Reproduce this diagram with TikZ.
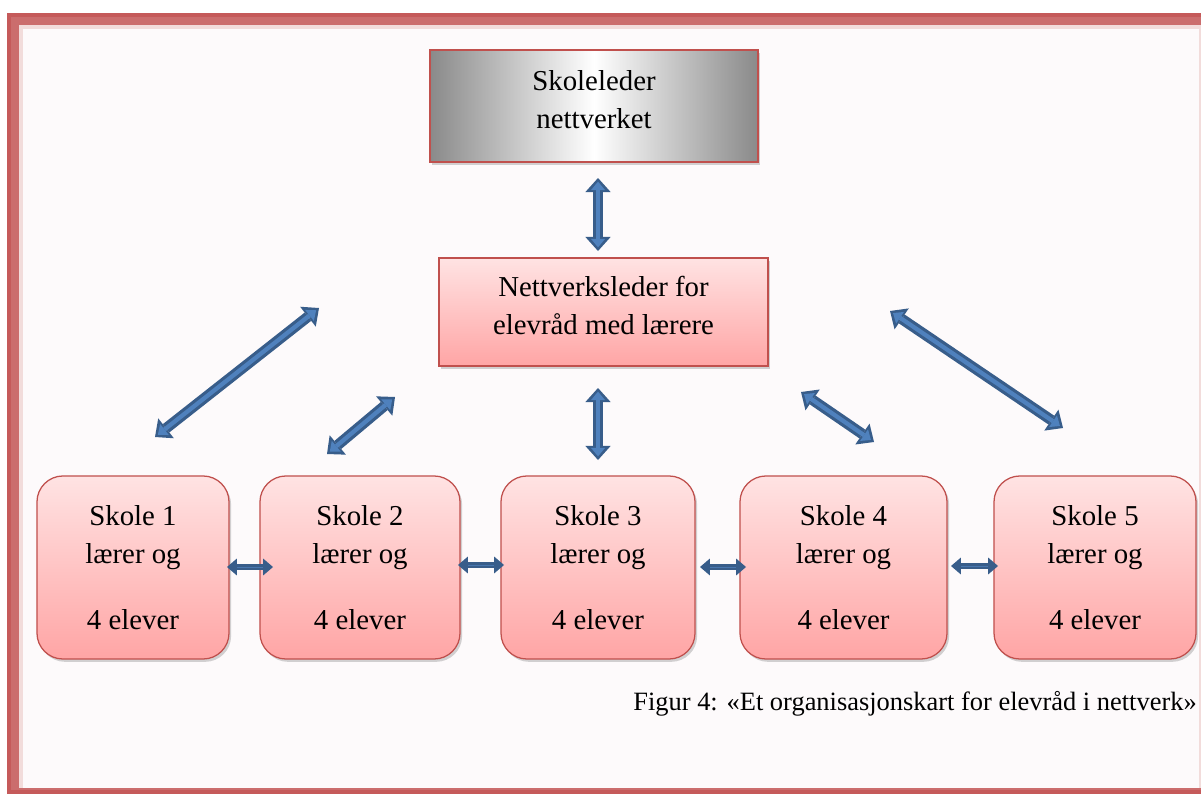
\documentclass[tikz,border=0pt]{standalone}
\usepackage{fontspec}
\setmainfont{Liberation Serif}
\usetikzlibrary{arrows.meta,shadows}

\definecolor{framered}{HTML}{C55A5A}
\definecolor{framelight}{HTML}{CB6D6D}
\definecolor{framepink}{HTML}{F2DCDB}
\definecolor{pagebg}{HTML}{FDFAFB}
\definecolor{boxline}{HTML}{C0504D}
\definecolor{pinktop}{HTML}{FFE3E3}
\definecolor{pinkbottom}{HTML}{FFA5A5}
\definecolor{arrowdark}{HTML}{385D8A}
\definecolor{arrowblue}{HTML}{4F81BD}

\tikzset{
  boxshadow/.style={drop shadow={opacity=0.35, shadow xshift=1.5pt, shadow yshift=-2pt}},
  pinkbox/.style={draw=boxline, line width=0.9pt, top color=pinktop, bottom color=pinkbottom,
    inner sep=0pt, align=center, font=\fontsize{20.5}{27}\selectfont, boxshadow},
  skolebox/.style={pinkbox, rounded corners=0.65cm, minimum height=4.575cm},
  blockarrow/.style={draw=arrowdark, line width=7.5pt,
    {Triangle[length=10pt,width=18pt,line width=0pt]}-{Triangle[length=10pt,width=18pt,line width=0pt]},
    postaction={draw=arrowblue, line width=3pt, shorten <=2.6pt, shorten >=2.6pt,
      {Triangle[length=6pt,width=10pt,line width=0pt]}-{Triangle[length=6pt,width=10pt,line width=0pt]}}},
  smallarrow/.style={draw=arrowdark, line width=4.8pt,
    {Triangle[length=7pt,width=12pt,line width=0pt]}-{Triangle[length=7pt,width=12pt,line width=0pt]},
    postaction={draw=arrowblue!70!arrowdark, line width=0.6pt, arrows=-, shorten <=7pt, shorten >=7pt}}
}

\begin{document}
\begin{tikzpicture}[x=0.025cm, y=-0.025cm]
  \useasboundingbox (0,0) rectangle (1201,794);

  % frame
  \fill[white] (0,0) rectangle (1201,794);
  \fill[framered] (7,13) rectangle (1201,794);
  \fill[framelight] (11,17) rectangle (1201,790);
  \fill[framepink] (19,25) rectangle (1201,788);
  \fill[pagebg] (23,29) rectangle (1199,788);

  % top boxes
  \node[draw=boxline, line width=0.9pt, left color=gray!92, right color=gray!92, middle color=white,
    minimum width=8.2cm, minimum height=2.8cm, inner sep=0pt, align=center, text depth=9pt,
    font=\fontsize{20.5}{27}\selectfont, boxshadow] (leder) at (594,106) {Skoleleder\\nettverket};
  \node[pinkbox, minimum width=8.225cm, minimum height=2.7cm, text depth=9pt] (nettleder) at (603.5,312)
    {Nettverksleder for\\elevråd med lærere};

  % schools
  \node[skolebox, minimum width=4.8cm] (skole1) at (133,567.5) {Skole 1\\lærer og\\[20pt]4 elever};
  \node[skolebox, minimum width=5.0cm] (skole2) at (360,567.5) {Skole 2\\lærer og\\[20pt]4 elever};
  \node[skolebox, minimum width=4.85cm] (skole3) at (598,567.5) {Skole 3\\lærer og\\[20pt]4 elever};
  \node[skolebox, minimum width=5.175cm] (skole4) at (843.5,567.5) {Skole 4\\lærer og\\[20pt]4 elever};
  \node[skolebox, minimum width=5.05cm] (skole5) at (1095,567.5) {Skole 5\\lærer og\\[20pt]4 elever};

  \node[anchor=east, font=\fontsize{18.8}{22}\selectfont, inner sep=0pt] (caption) at (1197,704)
    {Figur 4: «Et organisasjonskart for elevråd i nettverk»};

  % arrow ends
  \coordinate (top-a) at (598,178);
  \coordinate (top-b) at (598,251);
  \coordinate (d1-a) at (155,437);
  \coordinate (d1-b) at (319,308);
  \coordinate (d2-a) at (327,454);
  \coordinate (d2-b) at (395,397);
  \coordinate (mid-a) at (598,388);
  \coordinate (mid-b) at (598,460);
  \coordinate (d4-a) at (801,392);
  \coordinate (d4-b) at (874,442);
  \coordinate (d5-a) at (890,311);
  \coordinate (d5-b) at (1063,428);
  \coordinate (h1-a) at (227,567);
  \coordinate (h1-b) at (273,567);
  \coordinate (h2-a) at (458,565);
  \coordinate (h2-b) at (504,565);
  \coordinate (h3-a) at (700,567);
  \coordinate (h3-b) at (746,567);
  \coordinate (h4-a) at (951,566);
  \coordinate (h4-b) at (998,566);

  % Arrows
  \draw[blockarrow] (top-a) -- (top-b);
  \draw[blockarrow] (d1-a) -- (d1-b);
  \draw[blockarrow] (d2-a) -- (d2-b);
  \draw[blockarrow] (mid-a) -- (mid-b);
  \draw[blockarrow] (d4-a) -- (d4-b);
  \draw[blockarrow] (d5-a) -- (d5-b);

  \draw[smallarrow] (h1-a) -- (h1-b);
  \draw[smallarrow] (h2-a) -- (h2-b);
  \draw[smallarrow] (h3-a) -- (h3-b);
  \draw[smallarrow] (h4-a) -- (h4-b);
\end{tikzpicture}
\end{document}
